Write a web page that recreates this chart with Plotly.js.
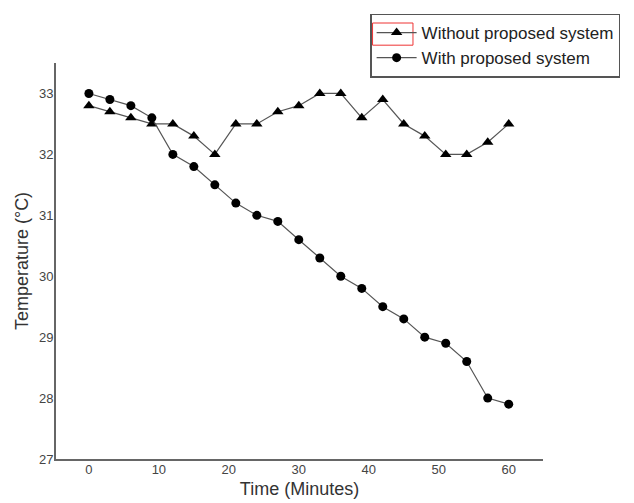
<!DOCTYPE html>
<html><head><meta charset="utf-8">
<script src="https://cdn.plot.ly/plotly-3.0.1.min.js"></script>
<style>html,body{margin:0;padding:0;background:#fff}#chart{width:634px;height:503px}</style>
</head><body><div id="chart"></div>
<script>
const timeMinutes = [0,3,6,9,12,15,18,21,24,27,30,33,36,39,42,45,48,51,54,57,60];
const withoutSystem = [32.8,32.7,32.6,32.5,32.5,32.3,32.0,32.5,32.5,32.7,32.8,33.0,33.0,32.6,32.9,32.5,32.3,32.0,32.0,32.2,32.5];
const withSystem = [33.0,32.9,32.8,32.6,32.0,31.8,31.5,31.2,31.0,30.9,30.6,30.3,30.0,29.8,29.5,29.3,29.0,28.9,28.6,28.0,27.9];
const seriesNames = ['Without proposed system','With proposed system'];
const xTicks = [0,10,20,30,40,50,60];
const yTicks = [27,28,29,30,31,32,33];

const font = 'Liberation Sans, Arial, sans-serif';
const traces = [
  {x: timeMinutes, y: withoutSystem, name: seriesNames[0], mode: 'lines+markers',
   line: {color: '#555', width: 1.2}, marker: {symbol: 'triangle-up', size: 10, color: '#000'}},
  {x: timeMinutes, y: withSystem, name: seriesNames[1], mode: 'lines+markers',
   line: {color: '#555', width: 1.2}, marker: {symbol: 'circle', size: 9, color: '#000'}}
];
const layout = {
  width: 634, height: 503,
  margin: {l: 56, r: 91, t: 63, b: 44},
  paper_bgcolor: '#fff', plot_bgcolor: '#fff',
  font: {family: font, color: '#333'},
  showlegend: true,
  legend: {x: 0.645, y: 1.125, xanchor: 'left', yanchor: 'top',
    bordercolor: '#555', borderwidth: 1.5, bgcolor: 'rgba(0,0,0,0)',
    font: {size: 17, color: '#222', family: font}, tracegroupgap: 0, itemwidth: 40},
  xaxis: {range: [-4.7, 64.9], tickvals: xTicks, ticks: '', showgrid: false, zeroline: false,
    showline: true, linecolor: '#666', linewidth: 2, tickfont: {size: 13, color: '#444'},
    ticklabelstandoff: -3,
    title: {text: 'Time (Minutes)', font: {size: 18, color: '#333'}, standoff: 7}},
  yaxis: {range: [27, 33.5], tickvals: yTicks, ticks: '', showgrid: false, zeroline: false,
    showline: true, linecolor: '#666', linewidth: 2, tickfont: {size: 13, color: '#444'},
    ticklabelstandoff: -2,
    title: {text: 'Temperature (°C)', font: {size: 18, color: '#333'}, standoff: 6}},
  shapes: [{type: 'rect', xref: 'paper', yref: 'paper', x0: 0.650, x1: 0.733, y0: 1.045, y1: 1.101,
    line: {color: '#e33', width: 1}, fillcolor: 'rgba(0,0,0,0)'}]
};
Plotly.newPlot('chart', traces, layout, {displayModeBar: false, staticPlot: true});
</script></body></html>
